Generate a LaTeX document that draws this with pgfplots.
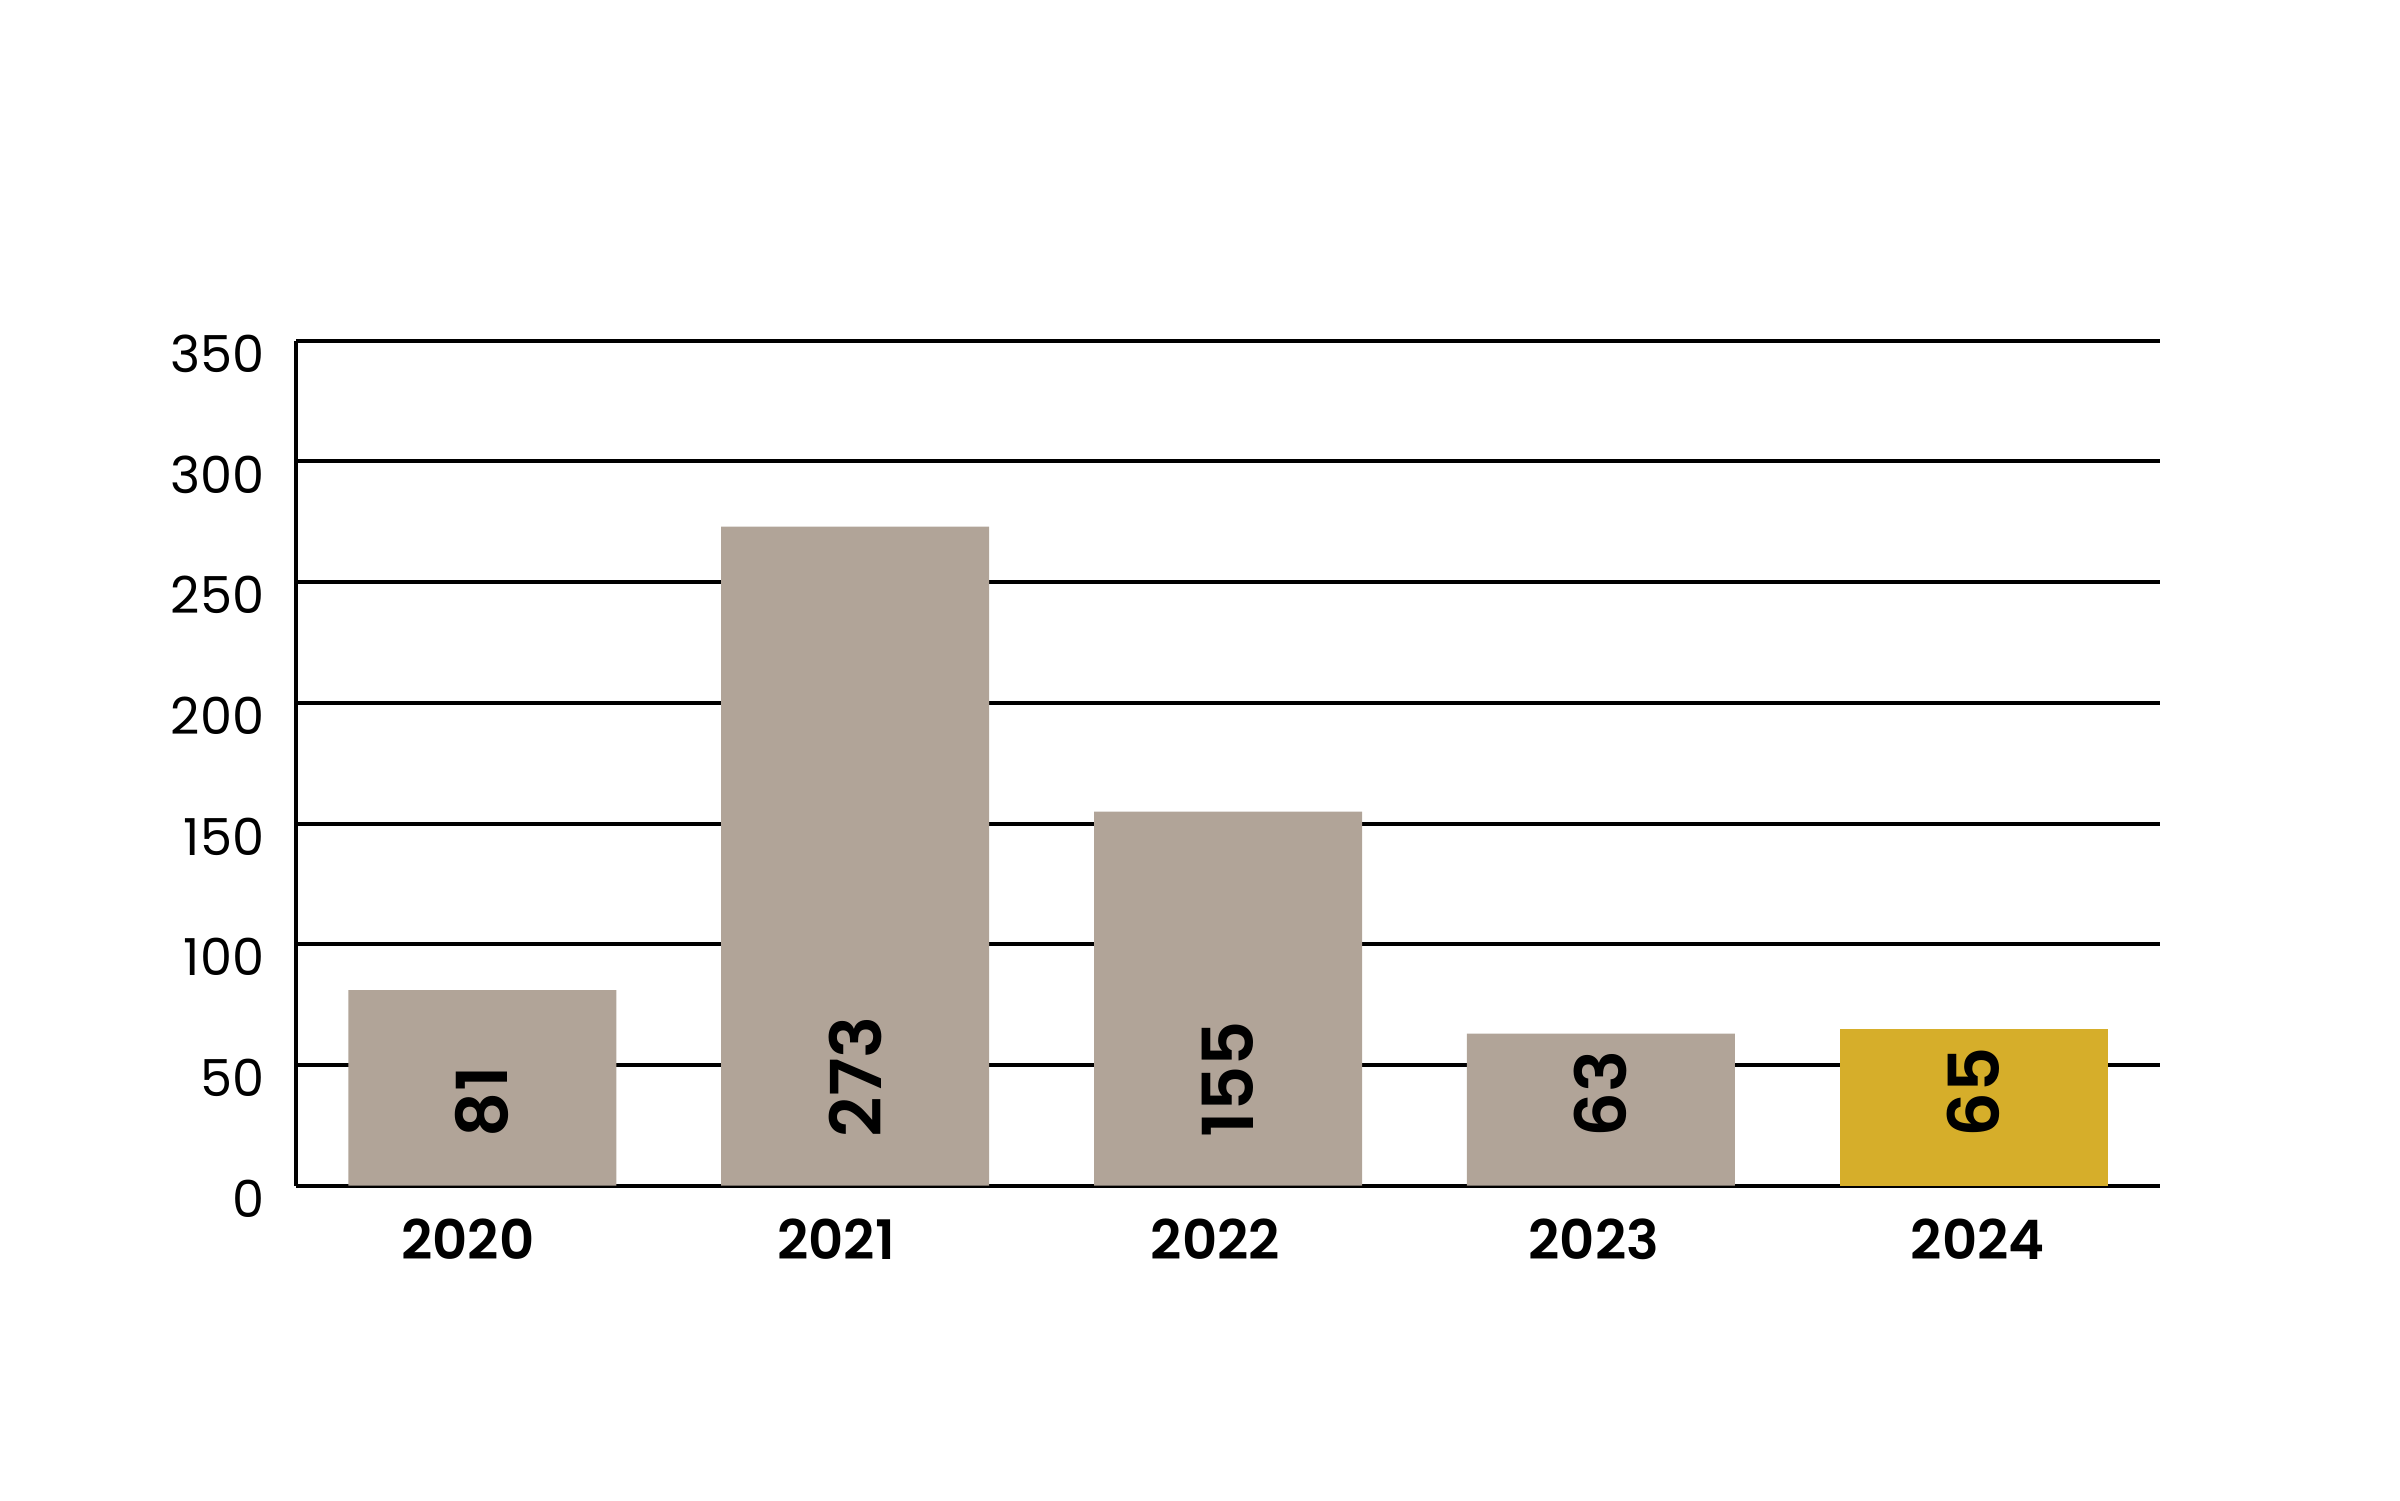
\documentclass[border=0pt]{standalone}
\usepackage{fontspec}
\setmainfont{Poppins}[BoldFont={Poppins SemiBold}]
\usepackage{pgfplots}
\pgfplotsset{compat=1.18}
\definecolor{barg}{HTML}{B1A498}
\definecolor{bargold}{HTML}{D6AE2A}
\begin{document}
\begin{tikzpicture}
\path[use as bounding box] (-2.96,-3.143) rectangle (21.04,11.857);
\begin{axis}[
  at={(0,0)}, anchor=south west,
  scale only axis, width=18.64cm, height=8.45cm,
  xmin=-0.5, xmax=4.5, ymin=0, ymax=350,
  axis lines=left,
  axis line style={-, black, line width=1.1pt},
  ymajorgrids,
  major grid style={black, line width=1.1pt},
  ytick={0,50,...,350},
  xtick={-0.039,0.949,1.966,2.981,4.011},
  xticklabels={2020,2021,2022,2023,2024},
  major tick length=0pt,
  tick style={draw=none},
  /pgf/number format/assume math mode=true,
  yticklabel style={font=\fontsize{14.5}{16}\selectfont, anchor=east, inner sep=0pt, xshift=-0.31cm, yshift=-0.13cm},
  xticklabel style={font=\fontsize{15.5}{17}\selectfont\bfseries, anchor=north, inner sep=0pt, yshift=-0.32cm},
  clip=false,
]
\addplot[ybar, bar width=2.68cm, bar shift=0pt, fill=barg, draw=none] coordinates {(0,81) (1,273) (2,155) (3,63)};
\addplot[ybar, bar width=2.68cm, bar shift=0pt, fill=bargold, draw=none] coordinates {(4,65)};
\addplot[draw=none, mark=none, nodes near coords, point meta=explicit symbolic,
  every node near coord/.append style={font=\fontsize{20}{21}\selectfont\bfseries, text=black, rotate=90, anchor=west, inner ysep=0pt, inner xsep=0.48cm}]
  coordinates {(0,0) [81] (1,0) [273] (2,0) [155] (3,0) [63] (4,0) [65]};
\end{axis}
\end{tikzpicture}
\end{document}
